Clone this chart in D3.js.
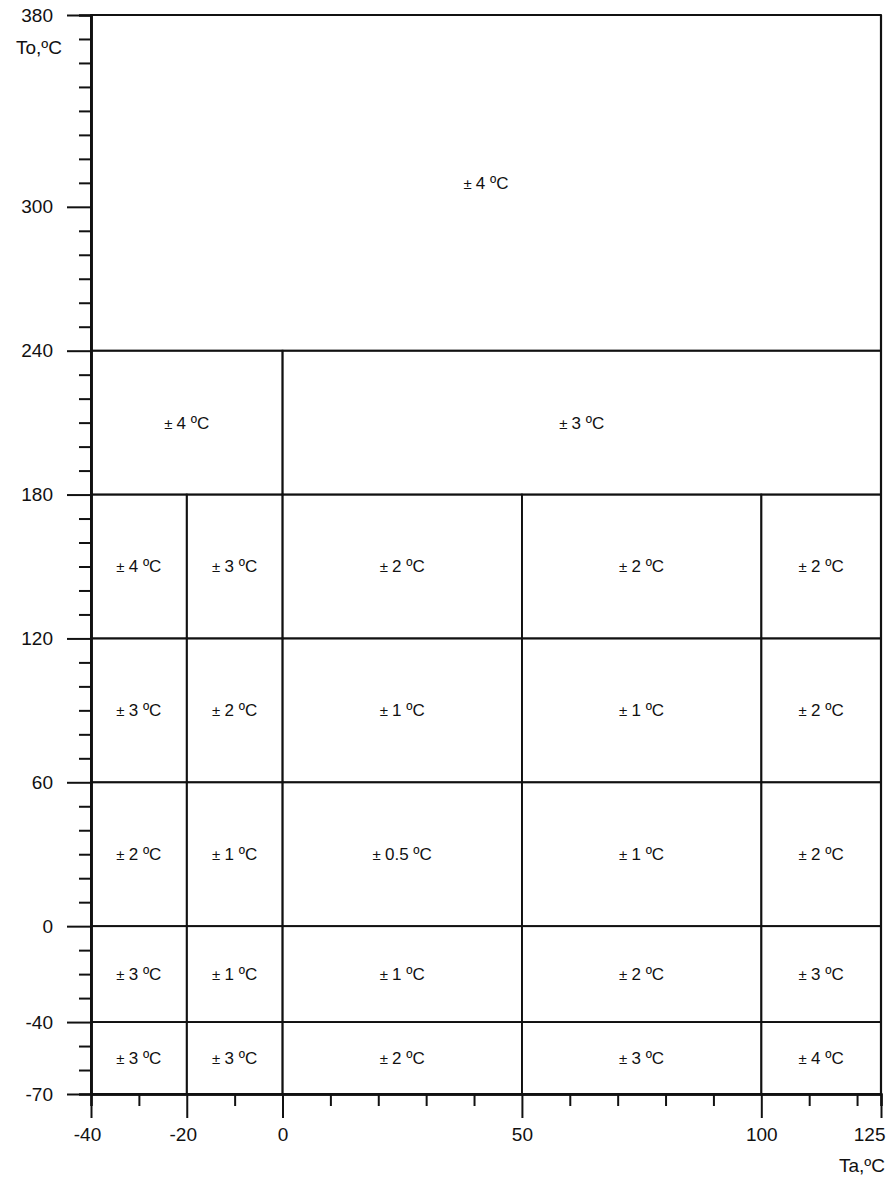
<!DOCTYPE html>
<html><head><meta charset="utf-8">
<script src="https://cdn.jsdelivr.net/npm/d3@7"></script>
<style>body{margin:0;background:#fff}svg{display:block}text{font-family:"Liberation Sans",Arial,sans-serif}</style>
</head><body>
<svg id="c" width="893" height="1178"></svg>
<script>
// Cell boundaries (°C)
const xMajorTicks = [-40, -20, 0, 50, 100, 125];
const yMajorTicks = [380, 300, 240, 180, 120, 60, 0, -40, -70];
const xMinorTicks = [-30, -10, 10, 20, 30, 40, 60, 70, 80, 90, 110, 120];
const yMinorTicks = d3.range(-60, 380, 10).filter(v => !yMajorTicks.includes(v));
// Rows: [To min, To max]; cells: [Ta min, Ta max]
const rowsTo = [[240, 380], [180, 240], [120, 180], [60, 120], [0, 60], [-40, 0], [-70, -40]];
const rowCellsTa = [
  [[-40, 125]],
  [[-40, 0], [0, 125]],
  [[-40, -20], [-20, 0], [0, 50], [50, 100], [100, 125]],
  [[-40, -20], [-20, 0], [0, 50], [50, 100], [100, 125]],
  [[-40, -20], [-20, 0], [0, 50], [50, 100], [100, 125]],
  [[-40, -20], [-20, 0], [0, 50], [50, 100], [100, 125]],
  [[-40, -20], [-20, 0], [0, 50], [50, 100], [100, 125]]
];
const rowAccuracy = [
  ["4"],
  ["4", "3"],
  ["4", "3", "2", "2", "2"],
  ["3", "2", "1", "1", "2"],
  ["2", "1", "0.5", "1", "2"],
  ["3", "1", "1", "2", "3"],
  ["3", "3", "2", "3", "4"]
];
const xTitle = "Ta,ºC";
const yTitle = "To,ºC";

const svg = d3.select("#c");
const m = {l: 91, t: 15, r: 881, b: 1094};
const x = d3.scaleLinear().domain([-40, 125]).range([m.l, m.r]);
const y = d3.scaleLinear().domain([-70, 380]).range([m.b, m.t]);

const cells = [];
rowsTo.forEach((r, i) => {
  rowCellsTa[i].forEach((c, j) => {
    cells.push({x0: c[0], x1: c[1], y0: r[0], y1: r[1], acc: rowAccuracy[i][j]});
  });
});

const g = svg.append("g");
g.selectAll("rect.cell").data(cells).join("rect")
  .attr("class", "cell")
  .attr("x", d => x(d.x0)).attr("y", d => y(d.y1))
  .attr("width", d => x(d.x1) - x(d.x0)).attr("height", d => y(d.y0) - y(d.y1))
  .attr("fill", "none").attr("stroke", "#111").attr("stroke-width", 1.8);

const t = g.selectAll("text.acc").data(cells).join("text")
  .attr("class", "acc")
  .attr("x", d => x((d.x0 + d.x1) / 2)).attr("y", d => y((d.y0 + d.y1) / 2))
  .attr("text-anchor", "middle").attr("dominant-baseline", "central")
  .attr("font-size", 17).attr("fill", "#111");
t.append("tspan").attr("font-size", 15).text("± ");
t.append("tspan").text(d => d.acc + " ºC");

// frame top/right
svg.append("line").attr("x1", m.l).attr("x2", m.r).attr("y1", m.t).attr("y2", m.t).attr("stroke", "#111").attr("stroke-width", 2.2);
svg.append("line").attr("x1", m.r).attr("x2", m.r).attr("y1", m.t).attr("y2", m.b).attr("stroke", "#111").attr("stroke-width", 2.2);

function styleAxis(sel) {
  sel.select(".domain").attr("stroke", "#111").attr("stroke-width", 2.6);
  sel.selectAll(".tick line").attr("stroke", "#111").attr("stroke-width", 2);
  sel.selectAll(".tick text").attr("font-size", 19).attr("fill", "#111").attr("font-family", "Liberation Sans, Arial, sans-serif");
}

// Y axis
const yMin = svg.append("g").attr("transform", `translate(${m.l},0)`)
  .call(d3.axisLeft(y).tickValues(yMinorTicks).tickSize(12).tickFormat(""));
styleAxis(yMin);
const yMaj = svg.append("g").attr("transform", `translate(${m.l},0)`)
  .call(d3.axisLeft(y).tickValues(yMajorTicks).tickSize(24).tickSizeOuter(0).tickPadding(14).tickFormat(d => String(d)));
styleAxis(yMaj);

// X axis
const xMin = svg.append("g").attr("transform", `translate(0,${m.b})`)
  .call(d3.axisBottom(x).tickValues(xMinorTicks).tickSize(12).tickFormat(""));
styleAxis(xMin);
const xMaj = svg.append("g").attr("transform", `translate(0,${m.b})`)
  .call(d3.axisBottom(x).tickValues(xMajorTicks).tickSize(24).tickSizeOuter(0).tickPadding(10).tickFormat(d => String(d)));
styleAxis(xMaj);
xMaj.selectAll(".tick text").filter(d => d === 125).attr("text-anchor", "end").attr("dx", 4);
xMaj.selectAll(".tick text").filter(d => d < 0).attr("dx", -4);

svg.append("text").attr("x", 62).attr("y", 47).attr("text-anchor", "end").attr("dominant-baseline", "central")
  .attr("font-size", 19).attr("fill", "#111").text(yTitle);
svg.append("text").attr("x", 885).attr("y", 1165).attr("text-anchor", "end").attr("dominant-baseline", "central")
  .attr("font-size", 19).attr("fill", "#111").text(xTitle);
</script>
</body></html>
